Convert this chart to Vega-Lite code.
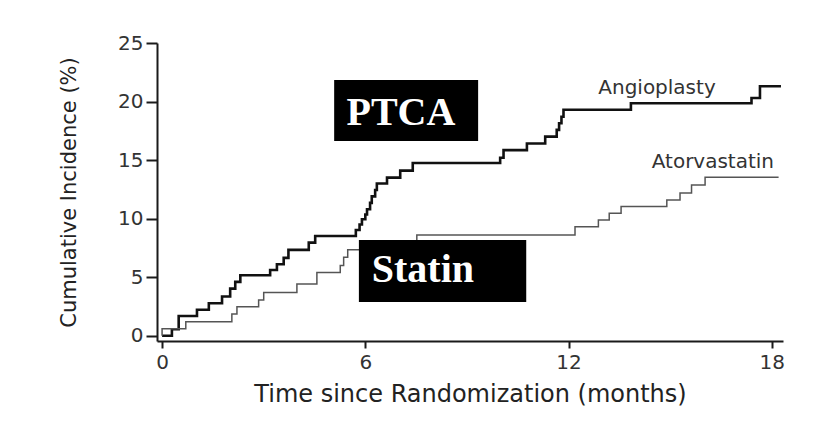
{
  "$schema": "https://vega.github.io/schema/vega-lite/v6.json",
  "width": 626,
  "height": 298,
  "autosize": {"type": "none"},
  "padding": {"left": 157, "top": 43, "right": 32, "bottom": 92},
  "background": "white",
  "config": {"view": {"stroke": null}, "font": "DejaVu Sans"},
  "datasets": {
    "curves": [
      {"arm": "Angioplasty", "seq": 1, "t": 0, "pct": 0},
      {"arm": "Angioplasty", "seq": 2, "t": 0.29, "pct": 0.55},
      {"arm": "Angioplasty", "seq": 3, "t": 0.49, "pct": 1.68},
      {"arm": "Angioplasty", "seq": 4, "t": 1.03, "pct": 2.22},
      {"arm": "Angioplasty", "seq": 5, "t": 1.38, "pct": 2.78},
      {"arm": "Angioplasty", "seq": 6, "t": 1.77, "pct": 3.35},
      {"arm": "Angioplasty", "seq": 7, "t": 2.01, "pct": 4.02},
      {"arm": "Angioplasty", "seq": 8, "t": 2.16, "pct": 4.6},
      {"arm": "Angioplasty", "seq": 9, "t": 2.31, "pct": 5.17},
      {"arm": "Angioplasty", "seq": 10, "t": 3.19, "pct": 5.62},
      {"arm": "Angioplasty", "seq": 11, "t": 3.39, "pct": 6.1},
      {"arm": "Angioplasty", "seq": 12, "t": 3.59, "pct": 6.65},
      {"arm": "Angioplasty", "seq": 13, "t": 3.73, "pct": 7.33},
      {"arm": "Angioplasty", "seq": 14, "t": 4.33, "pct": 7.95},
      {"arm": "Angioplasty", "seq": 15, "t": 4.52, "pct": 8.52},
      {"arm": "Angioplasty", "seq": 16, "t": 5.72, "pct": 9.03},
      {"arm": "Angioplasty", "seq": 17, "t": 5.83, "pct": 9.5},
      {"arm": "Angioplasty", "seq": 18, "t": 5.9, "pct": 9.95},
      {"arm": "Angioplasty", "seq": 19, "t": 6.0, "pct": 10.35},
      {"arm": "Angioplasty", "seq": 20, "t": 6.05, "pct": 10.8},
      {"arm": "Angioplasty", "seq": 21, "t": 6.14, "pct": 11.35},
      {"arm": "Angioplasty", "seq": 22, "t": 6.19, "pct": 11.9},
      {"arm": "Angioplasty", "seq": 23, "t": 6.29, "pct": 12.45},
      {"arm": "Angioplasty", "seq": 24, "t": 6.34, "pct": 13.0},
      {"arm": "Angioplasty", "seq": 25, "t": 6.64, "pct": 13.5},
      {"arm": "Angioplasty", "seq": 26, "t": 7.03, "pct": 14.1},
      {"arm": "Angioplasty", "seq": 27, "t": 7.4, "pct": 14.75},
      {"arm": "Angioplasty", "seq": 28, "t": 9.98, "pct": 15.2},
      {"arm": "Angioplasty", "seq": 29, "t": 10.08, "pct": 15.85},
      {"arm": "Angioplasty", "seq": 30, "t": 10.77, "pct": 16.42},
      {"arm": "Angioplasty", "seq": 31, "t": 11.31, "pct": 17.0},
      {"arm": "Angioplasty", "seq": 32, "t": 11.65, "pct": 17.58},
      {"arm": "Angioplasty", "seq": 33, "t": 11.72, "pct": 18.15},
      {"arm": "Angioplasty", "seq": 34, "t": 11.79, "pct": 18.7},
      {"arm": "Angioplasty", "seq": 35, "t": 11.85, "pct": 19.3},
      {"arm": "Angioplasty", "seq": 36, "t": 13.84, "pct": 19.86},
      {"arm": "Angioplasty", "seq": 37, "t": 17.4, "pct": 20.3},
      {"arm": "Angioplasty", "seq": 38, "t": 17.65, "pct": 21.3},
      {"arm": "Angioplasty", "seq": 39, "t": 18.27, "pct": 21.3},
      {"arm": "Atorvastatin", "seq": 1, "t": 0, "pct": 0},
      {"arm": "Atorvastatin", "seq": 2, "t": 0, "pct": 0.6},
      {"arm": "Atorvastatin", "seq": 3, "t": 0.7, "pct": 1.2},
      {"arm": "Atorvastatin", "seq": 4, "t": 2.06, "pct": 1.85},
      {"arm": "Atorvastatin", "seq": 5, "t": 2.21, "pct": 2.48},
      {"arm": "Atorvastatin", "seq": 6, "t": 2.85, "pct": 3.05},
      {"arm": "Atorvastatin", "seq": 7, "t": 3.0, "pct": 3.7},
      {"arm": "Atorvastatin", "seq": 8, "t": 3.98, "pct": 4.42},
      {"arm": "Atorvastatin", "seq": 9, "t": 4.57, "pct": 5.4},
      {"arm": "Atorvastatin", "seq": 10, "t": 5.26, "pct": 6.0},
      {"arm": "Atorvastatin", "seq": 11, "t": 5.36, "pct": 6.7},
      {"arm": "Atorvastatin", "seq": 12, "t": 5.48, "pct": 7.35},
      {"arm": "Atorvastatin", "seq": 13, "t": 6.8, "pct": 7.95},
      {"arm": "Atorvastatin", "seq": 14, "t": 7.52, "pct": 8.6},
      {"arm": "Atorvastatin", "seq": 15, "t": 12.19, "pct": 9.3},
      {"arm": "Atorvastatin", "seq": 16, "t": 12.88, "pct": 9.88},
      {"arm": "Atorvastatin", "seq": 17, "t": 13.2, "pct": 10.46},
      {"arm": "Atorvastatin", "seq": 18, "t": 13.55, "pct": 11.03},
      {"arm": "Atorvastatin", "seq": 19, "t": 14.9, "pct": 11.6},
      {"arm": "Atorvastatin", "seq": 20, "t": 15.29, "pct": 12.2},
      {"arm": "Atorvastatin", "seq": 21, "t": 15.63, "pct": 12.88},
      {"arm": "Atorvastatin", "seq": 22, "t": 16.03, "pct": 13.54},
      {"arm": "Atorvastatin", "seq": 23, "t": 18.2, "pct": 13.54}
    ],
    "curveLabels": [
      {"label": "Angioplasty", "t": 14.61, "pct": 20.66},
      {"label": "Atorvastatin", "t": 16.26, "pct": 14.3}
    ],
    "boxes": [
      {"label": "PTCA", "x1": 5.08, "x2": 9.33, "y1": 16.64, "y2": 21.85, "tx": 7.05, "ty": 18.0},
      {"label": "Statin", "x1": 5.81, "x2": 10.75, "y1": 2.88, "y2": 8.18, "tx": 7.7, "ty": 4.6}
    ]
  },
  "layer": [
    {
      "data": {"name": "curves"},
      "mark": {"type": "line", "interpolate": "step-after"},
      "encoding": {
        "x": {
          "field": "t", "type": "quantitative",
          "scale": {"domain": [-0.15, 18.33], "nice": false, "zero": false},
          "axis": {
            "values": [0, 6, 12, 18], "grid": false,
            "domainColor": "#1a1a1a", "domainWidth": 2, "tickColor": "#1a1a1a", "tickWidth": 2, "tickSize": 7,
            "labelFont": "DejaVu Sans", "labelFontSize": 20, "labelColor": "#333", "labelPadding": 4,
            "title": "Time since Randomization (months)", "titleFont": "DejaVu Sans", "titleFontSize": 24,
            "titleFontWeight": "normal", "titleColor": "#222", "titlePadding": 10
          }
        },
        "y": {
          "field": "pct", "type": "quantitative",
          "scale": {"domain": [-0.45, 25], "nice": false, "zero": false},
          "axis": {
            "values": [0, 5, 10, 15, 20, 25], "grid": false,
            "domainColor": "#1a1a1a", "domainWidth": 2, "tickColor": "#1a1a1a", "tickWidth": 2, "tickSize": 11,
            "labelFont": "DejaVu Sans", "labelFontSize": 20, "labelColor": "#333", "labelPadding": 3,
            "title": "Cumulative Incidence (%)", "titleFont": "DejaVu Sans", "titleFontSize": 21,
            "titleFontWeight": "normal", "titleColor": "#222", "titlePadding": 38
          }
        },
        "color": {"field": "arm", "type": "nominal", "scale": {"domain": ["Angioplasty", "Atorvastatin"], "range": ["#111111", "#555555"]}, "legend": null},
        "strokeWidth": {"field": "arm", "type": "nominal", "scale": {"domain": ["Angioplasty", "Atorvastatin"], "range": [2.6, 1.5]}, "legend": null},
        "order": {"field": "seq", "type": "quantitative"}
      }
    },
    {
      "data": {"name": "curveLabels"},
      "mark": {"type": "text", "font": "DejaVu Sans", "fontSize": 20, "color": "#333", "align": "center", "baseline": "alphabetic"},
      "encoding": {
        "x": {"field": "t", "type": "quantitative"},
        "y": {"field": "pct", "type": "quantitative"},
        "text": {"field": "label"}
      }
    },
    {
      "data": {"name": "boxes"},
      "mark": {"type": "rect", "color": "black"},
      "encoding": {
        "x": {"field": "x1", "type": "quantitative"},
        "x2": {"field": "x2"},
        "y": {"field": "y1", "type": "quantitative"},
        "y2": {"field": "y2"}
      }
    },
    {
      "data": {"name": "boxes"},
      "mark": {"type": "text", "font": "Liberation Serif", "fontWeight": "bold", "fontSize": 40, "color": "white", "align": "center", "baseline": "alphabetic"},
      "encoding": {
        "x": {"field": "tx", "type": "quantitative"},
        "y": {"field": "ty", "type": "quantitative"},
        "text": {"field": "label"}
      }
    }
  ]
}
